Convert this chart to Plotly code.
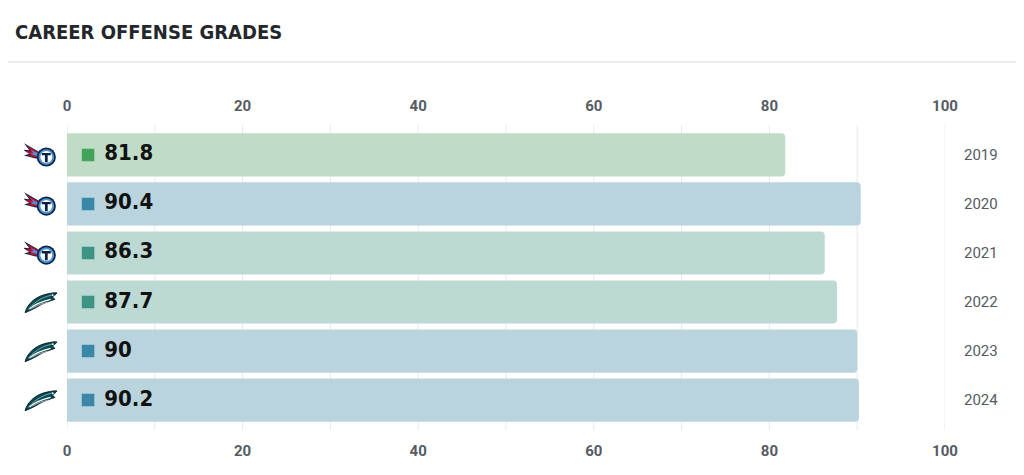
import base64
import plotly.graph_objects as go

# ---------------- data ----------------
years = ["2019", "2020", "2021", "2022", "2023", "2024"]
grades = [81.8, 90.4, 86.3, 87.7, 90.0, 90.2]
teams = ["TEN", "TEN", "TEN", "PHI", "PHI", "PHI"]
tick_vals = [0, 20, 40, 60, 80, 100]
grid_vals = [0, 10, 20, 30, 40, 50, 60, 70, 80, 90, 100]

# ---------------- styles ----------------
bar_colors = ["#bfdcc6", "#bad4dd", "#bcd9d4", "#bcd9d4", "#bad4dd", "#bad4dd"]
dot_colors = ["#43a35a", "#3a87a8", "#3e9483", "#3e9483", "#3a87a8", "#3a87a8"]

TITANS_SVG = """<svg xmlns='http://www.w3.org/2000/svg' width='32' height='24' viewBox='0 0 32 24'>
<path d='M14,9 L0,1 L5,7.5 L-1,7 L5,11 L0,12.5 L12,15.5 Z' fill='#0c2340'/>
<path d='M14,10 L2,3 L7,8.5 L1,8.5 L7,11.8 L3,12.8 L12,14.5 Z' fill='#c8102e'/>
<path d='M14,11 L6,7 L9,10 L6,11 L12,13 Z' fill='#4b92db'/>
<circle cx='21' cy='14' r='9' fill='#0c2340'/>
<circle cx='21' cy='14' r='7.4' fill='#4b92db'/>
<circle cx='21' cy='14' r='5.6' fill='#ffffff'/>
<path d='M16.8,10.2 L25.2,10.2 L25.2,12.4 L22.3,12.4 L22.3,18.8 L19.7,18.8 L19.7,12.4 L16.8,12.4 Z' fill='#0c2340'/>
</svg>"""

EAGLES_SVG = """<svg xmlns='http://www.w3.org/2000/svg' width='32' height='24' viewBox='0 0 32 24'>
<path d='M1,22 C3,14 11,6 24,4 C27,3.5 30,3 31,3.5 C30,5 28,6.5 26,7.5 C27.5,7.8 28.5,8.5 29,9.5 C25,11 21,12 18,13.5 C14,15.5 9,19 1,22 Z' fill='#004c54' stroke='#0b1f22' stroke-width='0.9'/>
<path d='M5,18.5 C10,14.5 16,11.5 25,9.5' stroke='#ffffff' stroke-width='1.3' fill='none'/>
<path d='M7,17.8 C12,15 17,13.2 23,12' stroke='#a5acaf' stroke-width='1' fill='none'/>
<path d='M4,19 C8,14 15,8 26,5.5' stroke='#a5acaf' stroke-width='0.8' fill='none'/>
<circle cx='27' cy='5.5' r='0.9' fill='#ffffff'/>
</svg>"""


def svg_uri(svg):
    return "data:image/svg+xml;base64," + base64.b64encode(svg.encode()).decode()


logo_src = {"TEN": svg_uri(TITANS_SVG), "PHI": svg_uri(EAGLES_SVG)}

FONT_NUM = "DejaVu Sans Condensed, DejaVu Sans, sans-serif"
FONT_UI = "Roboto, Open Sans, sans-serif"

# page body adds an 8px offset; layout numbers below compensate for it
OFF = 8
Y_RANGE = [5.61, -0.61]
W, H = 1024, 475
ML, MT = 67 - OFF, 125 - OFF
PW, PH = 878, 305
MR, MB = W - ML - PW, H - MT - PH

fig = go.Figure()

fig.add_trace(go.Bar(
    x=grades, y=years, orientation="h",
    marker=dict(color=bar_colors, line=dict(width=0), cornerradius=4),
    hoverinfo="x+y", showlegend=False,
))

fig.add_trace(go.Scatter(
    x=[2.4] * len(years), y=years, mode="markers",
    marker=dict(symbol="square", size=11, color=dot_colors,
                line=dict(width=1.5, color=dot_colors)),
    hoverinfo="skip", showlegend=False, cliponaxis=False,
))

labels = [f"{g:g}" for g in grades]
fig.add_trace(go.Scatter(
    x=[4.25] * len(years), y=years, mode="text",
    text=labels, textposition="middle right",
    textfont=dict(family=FONT_NUM, size=22, color="#111111", weight="bold"),
    hoverinfo="skip", showlegend=False, cliponaxis=False,
))

# invisible trace for the top axis
fig.add_trace(go.Scatter(
    x=[0, 100], y=[years[0], years[0]], xaxis="x2", mode="markers",
    marker=dict(opacity=0), hoverinfo="skip", showlegend=False,
))

axis_common = dict(
    range=[0, 100], tickmode="array", tickvals=tick_vals,
    ticktext=[str(v) for v in tick_vals],
    showgrid=False, zeroline=False, showline=False, ticks="",
    tickfont=dict(family=FONT_UI, size=15, color="#555b63", weight="bold"),
    fixedrange=True, ticklabelstandoff=10, automargin=False,
)


def cat_to_paper(i):
    return (Y_RANGE[0] - i) / (Y_RANGE[0] - Y_RANGE[1])


fig.update_layout(
    width=W, height=H,
    margin=dict(l=ML, r=MR, t=MT, b=MB, autoexpand=False),
    paper_bgcolor="white", plot_bgcolor="white",
    xaxis=dict(**axis_common, side="bottom"),
    xaxis2=dict(**axis_common, side="top", overlaying="x", matches="x"),
    yaxis=dict(categoryorder="array", categoryarray=years,
               range=Y_RANGE, side="right", showgrid=False,
               zeroline=False, showline=False, ticks="",
               ticklabelstandoff=18, automargin=False,
               tickfont=dict(family=FONT_UI, size=15, color="#555b63"),
               fixedrange=True),
    bargap=0.12,
    title=dict(text="<b>CAREER OFFENSE GRADES</b>", xref="container",
               x=(15 - OFF) / W, xanchor="left", yref="container",
               y=1 - (32 - OFF) / H, yanchor="middle",
               font=dict(family=FONT_NUM, size=20, color="#23272b")),
    shapes=[
        dict(type="line", xref="paper", yref="paper", x0=-0.2, x1=1.2,
             y0=1 + (MT - (62 - OFF)) / PH, y1=1 + (MT - (62 - OFF)) / PH,
             line=dict(color="#e3e6ea", width=1.5)),
    ] + [
        dict(type="line", xref="x", yref="paper", x0=v, x1=v, y0=0, y1=1,
             line=dict(color="#e6e9ed", width=1), layer="below")
        for v in grid_vals
    ],
    images=[
        dict(source=logo_src[t], xref="paper", yref="paper",
             x=-26 / PW, y=cat_to_paper(i),
             sizex=34 / PW, sizey=26 / PH, xanchor="center", yanchor="middle",
             sizing="contain", layer="above")
        for i, t in enumerate(teams)
    ],
)

fig.write_html("out.html")
